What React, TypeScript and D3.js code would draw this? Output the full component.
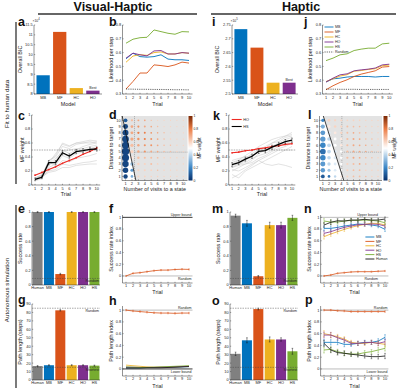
import React from 'react';
import * as d3 from 'd3';

const FONT = '"Liberation Sans", Arial, Helvetica, sans-serif';
const INK = '#262626';
const MB = '#0072BD', MF = '#D95319', HC = '#EDB120', HO = '#7E2F8E', HS = '#77AC30', HUMAN = '#808080';

// ---------------- data ----------------
const trials = [1, 2, 3, 4, 5, 6, 7, 8, 9, 10];
const models = ['MB', 'MF', 'HC', 'HO'];
const groups = ['Human', 'MB', 'MF', 'HC', 'HO', 'HS'];
const groupColors = [HUMAN, MB, MF, HC, HO, HS];
const unitTicks = [0, 0.2, 0.4, 0.6, 0.8, 1];
const pathTicks = [0, 10, 20, 30, 40, 50, 60, 70, 80, 90];

// a, i : overall BIC
const bicVisual = [8.95, 11.15, 8.3, 8.17];
const bicHaptic = [2.735, 2.668, 2.541, 2.541];
const bicVisualTicks = [8, 8.5, 9, 9.5, 10, 10.5, 11, 11.5];
const bicHapticTicks = [2.5, 2.55, 2.6, 2.65, 2.7, 2.75];

// b, j : likelihood per step
const likTicks = [0.3, 0.4, 0.5, 0.6, 0.7, 0.8];
const likVisualMB = [0.555, 0.596, 0.571, 0.567, 0.571, 0.584, 0.553, 0.548, 0.548, 0.543];
const likVisualMF = [0.336, 0.391, 0.452, 0.452, 0.511, 0.506, 0.499, 0.511, 0.531, 0.524];
const likVisualHC = [0.53, 0.575, 0.585, 0.58, 0.6, 0.605, 0.59, 0.59, 0.6, 0.595];
const likVisualHO = [0.56, 0.596, 0.584, 0.576, 0.612, 0.615, 0.59, 0.59, 0.6, 0.596];
const likVisualHS = [0.668, 0.697, 0.708, 0.711, 0.764, 0.752, 0.74, 0.733, 0.752, 0.75];
const likVisualRandom = [0.336, 0.335, 0.334, 0.334, 0.333, 0.333, 0.332, 0.331, 0.331, 0.33];
const likHapticMB = [0.387, 0.41, 0.415, 0.423, 0.427, 0.427, 0.427, 0.423, 0.427, 0.427];
const likHapticMF = [0.331, 0.36, 0.384, 0.403, 0.427, 0.444, 0.456, 0.468, 0.495, 0.499];
const likHapticHC = [0.39, 0.41, 0.43, 0.44, 0.465, 0.47, 0.478, 0.483, 0.505, 0.51];
const likHapticHO = [0.387, 0.415, 0.439, 0.446, 0.468, 0.475, 0.48, 0.488, 0.511, 0.516];
const likHapticHS = [0.542, 0.56, 0.584, 0.591, 0.615, 0.625, 0.632, 0.632, 0.663, 0.668];
const likHapticRandom = [0.335, 0.335, 0.334, 0.334, 0.334, 0.333, 0.333, 0.333, 0.333, 0.333];

// c, k : MF weight per trial
const mfWeightVisualHS = [0.081, 0.11, 0.319, 0.319, 0.461, 0.414, 0.476, 0.49, 0.51, 0.514];
const mfWeightVisualHSErr = [0.02, 0.02, 0.03, 0.03, 0.03, 0.03, 0.03, 0.03, 0.03, 0.03];
const mfWeightVisualHO = [0.14, 0.18, 0.22, 0.26, 0.31, 0.35, 0.39, 0.44, 0.48, 0.53];
const mfWeightHapticHS = [0.29, 0.32, 0.37, 0.41, 0.48, 0.49, 0.54, 0.58, 0.62, 0.64];
const mfWeightHapticHSErr = [0.03, 0.03, 0.03, 0.03, 0.03, 0.03, 0.03, 0.03, 0.03, 0.03];
const mfWeightHapticHO = [0.46, 0.47, 0.49, 0.5, 0.52, 0.53, 0.55, 0.56, 0.58, 0.59];
const mfSubjectsVisual = [
  [0.08, 0.12, 0.35, 0.4, 0.55, 0.52, 0.58, 0.6, 0.6, 0.62],
  [0.1, 0.15, 0.3, 0.45, 0.58, 0.55, 0.6, 0.62, 0.64, 0.63],
  [0.07, 0.1, 0.28, 0.35, 0.5, 0.45, 0.5, 0.55, 0.58, 0.6],
  [0.09, 0.13, 0.25, 0.3, 0.45, 0.4, 0.48, 0.5, 0.52, 0.55],
  [0.06, 0.09, 0.3, 0.38, 0.48, 0.5, 0.52, 0.52, 0.55, 0.57],
  [0.1, 0.14, 0.32, 0.28, 0.42, 0.38, 0.45, 0.47, 0.5, 0.52],
  [0.08, 0.1, 0.22, 0.25, 0.35, 0.33, 0.38, 0.4, 0.42, 0.45],
  [0.07, 0.11, 0.2, 0.22, 0.3, 0.28, 0.3, 0.32, 0.33, 0.35],
  [0.09, 0.12, 0.18, 0.2, 0.25, 0.25, 0.28, 0.29, 0.3, 0.3],
  [0.1, 0.13, 0.35, 0.42, 0.6, 0.56, 0.6, 0.6, 0.62, 0.6],
];
const mfSubjectsHaptic = [
  [0.25, 0.3, 0.35, 0.4, 0.5, 0.55, 0.6, 0.65, 0.7, 0.75],
  [0.3, 0.35, 0.38, 0.45, 0.5, 0.52, 0.6, 0.62, 0.68, 0.7],
  [0.2, 0.25, 0.3, 0.35, 0.45, 0.5, 0.55, 0.6, 0.65, 0.68],
  [0.35, 0.38, 0.4, 0.42, 0.48, 0.5, 0.52, 0.58, 0.6, 0.62],
  [0.15, 0.1, 0.2, 0.25, 0.3, 0.35, 0.4, 0.45, 0.5, 0.55],
  [0.28, 0.3, 0.32, 0.38, 0.42, 0.45, 0.5, 0.55, 0.58, 0.6],
  [0.22, 0.2, 0.25, 0.3, 0.35, 0.3, 0.28, 0.3, 0.28, 0.25],
  [0.32, 0.36, 0.42, 0.48, 0.55, 0.6, 0.65, 0.68, 0.7, 0.72],
  [0.25, 0.28, 0.3, 0.32, 0.38, 0.42, 0.48, 0.52, 0.55, 0.6],
  [0.1, 0.15, 0.22, 0.28, 0.35, 0.4, 0.45, 0.5, 0.5, 0.5],
];

// d, l : rows = distance to target 1..10, columns = visits 1..10
const visitCountVisual = [
  [30, 8, 3, 2, 1, 1, 0.5, 0.5, 0.3, 0.3],
  [50, 12, 4, 3, 2, 1, 1, 0.5, 0.5, 0.3],
  [70, 15, 6, 4, 3, 2, 1, 1, 0.5, 0.5],
  [90, 15, 6, 4, 3, 2, 1.5, 1, 0.8, 0.5],
  [100, 14, 6, 4, 3, 2, 1.5, 1, 0.8, 0.5],
  [90, 14, 6, 4, 3, 2, 1.5, 1, 0.8, 0.5],
  [80, 14, 6, 4, 3, 2, 1, 1, 0.5, 0.5],
  [60, 10, 5, 3, 2, 1.5, 1, 0.5, 0.5, 0.3],
  [40, 8, 4, 3, 2, 1, 0.5, 0.5, 0.3, 0.3],
  [20, 5, 3, 2, 1, 0.5, 0.5, 0.3, 0.3, 0.3],
];
const visitWeightVisual = [
  [0.05, 0.3, 0.6, 0.6, 0.6, 0.6, 0.6, 0.6, 0.6, 0.6],
  [0.05, 0.25, 0.6, 0.6, 0.6, 0.65, 0.6, 0.6, 0.6, 0.6],
  [0.05, 0.35, 0.6, 0.6, 0.65, 0.6, 0.6, 0.6, 0.6, 0.6],
  [0.05, 0.55, 0.65, 0.65, 0.65, 0.65, 0.6, 0.6, 0.6, 0.6],
  [0.05, 0.6, 0.7, 0.75, 0.7, 0.7, 0.65, 0.65, 0.6, 0.6],
  [0.05, 0.65, 0.7, 0.75, 0.75, 0.7, 0.65, 0.65, 0.6, 0.6],
  [0.05, 0.7, 0.75, 0.8, 0.75, 0.7, 0.65, 0.6, 0.6, 0.6],
  [0.05, 0.7, 0.8, 0.8, 0.75, 0.7, 0.65, 0.6, 0.6, 0.6],
  [0.05, 0.7, 0.75, 0.7, 0.7, 0.65, 0.6, 0.6, 0.6, 0.6],
  [0.1, 0.65, 0.7, 0.7, 0.65, 0.6, 0.6, 0.6, 0.6, 0.6],
];
const visitCountHaptic = [
  [20, 8, 6, 4, 3, 2, 2, 1.5, 1, 1],
  [30, 12, 8, 5, 3, 2, 2, 1.5, 1, 1],
  [40, 15, 10, 6, 4, 3, 2, 1.5, 1, 1],
  [50, 18, 12, 7, 4, 3, 2, 1.5, 1, 1],
  [55, 20, 12, 7, 4, 3, 2, 1.5, 1, 1],
  [50, 20, 12, 7, 4, 3, 2, 1.5, 1, 1],
  [45, 18, 10, 6, 4, 3, 2, 1.5, 1, 1],
  [35, 15, 9, 5, 3, 2, 2, 1.5, 1, 1],
  [25, 12, 7, 4, 3, 2, 1.5, 1, 1, 0.8],
  [15, 8, 5, 3, 2, 2, 1.5, 1, 1, 0.8],
];
const visitWeightHaptic = [
  [0.1, 0.15, 0.4, 0.55, 0.6, 0.65, 0.65, 0.65, 0.6, 0.6],
  [0.25, 0.35, 0.45, 0.5, 0.6, 0.65, 0.65, 0.6, 0.6, 0.6],
  [0.25, 0.4, 0.45, 0.5, 0.6, 0.65, 0.7, 0.65, 0.6, 0.6],
  [0.2, 0.4, 0.45, 0.5, 0.65, 0.7, 0.7, 0.65, 0.65, 0.6],
  [0.15, 0.4, 0.45, 0.5, 0.65, 0.7, 0.7, 0.7, 0.65, 0.6],
  [0.2, 0.4, 0.5, 0.55, 0.65, 0.7, 0.7, 0.7, 0.65, 0.6],
  [0.25, 0.4, 0.5, 0.55, 0.65, 0.7, 0.7, 0.65, 0.65, 0.6],
  [0.25, 0.45, 0.55, 0.6, 0.65, 0.7, 0.65, 0.65, 0.6, 0.6],
  [0.3, 0.55, 0.6, 0.6, 0.65, 0.65, 0.65, 0.6, 0.6, 0.6],
  [0.2, 0.6, 0.6, 0.6, 0.6, 0.6, 0.6, 0.6, 0.6, 0.6],
];
const boundaryVisual = [[0.5, 10.6], [2.6, 0.4]];
const boundaryHaptic = [[1.1, 10.6], [4.4, 0.4]];
const visitsDashVisual = 2.4;
const visitsDashHaptic = 4.1;
const distanceDash = 4.9;

// e, m : success rate
const successVisual = [1, 1, 0.15, 1, 1, 1];
const successVisualErr = [0.005, 0.005, 0.01, 0.005, 0.005, 0.005];
const successHaptic = [0.95, 0.845, 0.12, 0.82, 0.82, 0.92];
const successHapticErr = [0.02, 0.04, 0.01, 0.04, 0.04, 0.035];
const successRandom = 0.09;

// f, n : success rate index
const sriVisualMF = [0, 0.045, 0.056, 0.073, 0.09, 0.1, 0.1, 0.11, 0.115, 0.112];
const sriHapticMB = [0.812, 0.812, 0.829, 0.852, 0.869, 0.886, 0.881, 0.869, 0.852, 0.795];
const sriHapticMF = [0, 0.017, 0.045, 0.056, 0.068, 0.073, 0.073, 0.073, 0.08, 0.085];
const sriHapticHC = [0.67, 0.716, 0.755, 0.795, 0.829, 0.857, 0.88, 0.897, 0.897, 0.869];
const sriHapticHO = [0.727, 0.755, 0.795, 0.829, 0.852, 0.874, 0.88, 0.886, 0.88, 0.852];
const sriHapticHS = [0.937, 0.92, 0.92, 0.937, 0.948, 0.948, 0.954, 0.948, 0.937, 0.908];
const sriHapticHuman = [0.869, 0.915, 0.942, 0.937, 0.954, 0.954, 0.966, 0.954, 0.954, 0.971];
const sriErr = [0.04, 0.04, 0.035, 0.035, 0.03, 0.03, 0.03, 0.03, 0.03, 0.035];
const sriErrMF = [0.01, 0.01, 0.01, 0.01, 0.01, 0.01, 0.01, 0.01, 0.01, 0.01];

// g, o : path length
const pathVisual = [16.5, 17.5, 82.5, 17.5, 17.5, 17];
const pathVisualErr = [0.6, 0.6, 0.8, 0.6, 0.6, 0.6];
const pathHaptic = [31, 47, 84, 48, 48, 34];
const pathHapticErr = [2, 3, 1, 3, 2, 3.5];
const pathRandom = 85;
const pathShortest = 15;

// h, p : path length index
const pliVisualMF = [1, 0.985, 0.975, 0.965, 0.955, 0.95, 0.95, 0.945, 0.95, 0.95];
const pliVisualMB = [0.02, 0.02, 0.02, 0.025, 0.025, 0.025, 0.03, 0.03, 0.035, 0.04];
const pliVisualHC = [0.065, 0.055, 0.045, 0.035, 0.03, 0.03, 0.03, 0.035, 0.04, 0.045];
const pliVisualHO = [0.03, 0.028, 0.025, 0.025, 0.025, 0.03, 0.03, 0.035, 0.04, 0.045];
const pliVisualHS = [0.035, 0.03, 0.025, 0.025, 0.03, 0.035, 0.04, 0.045, 0.05, 0.055];
const pliVisualHuman = [0.015, 0.015, 0.015, 0.02, 0.02, 0.02, 0.025, 0.03, 0.035, 0.04];
const pliHapticMB = [0.452, 0.452, 0.452, 0.418, 0.418, 0.435, 0.452, 0.452, 0.474, 0.537];
const pliHapticMF = [1, 1, 0.99, 0.985, 0.975, 0.975, 0.975, 0.975, 0.975, 0.975];
const pliHapticHC = [0.6, 0.576, 0.548, 0.508, 0.452, 0.435, 0.435, 0.452, 0.435, 0.418];
const pliHapticHO = [0.576, 0.576, 0.53, 0.49, 0.435, 0.435, 0.446, 0.452, 0.435, 0.463];
const pliHapticHS = [0.322, 0.333, 0.294, 0.266, 0.254, 0.254, 0.277, 0.294, 0.322, 0.35];
const pliHapticHuman = [0.435, 0.322, 0.277, 0.266, 0.249, 0.238, 0.22, 0.209, 0.209, 0.22];
const pliErr = [0.05, 0.045, 0.04, 0.04, 0.035, 0.035, 0.035, 0.035, 0.04, 0.045];
const pliErrMF = [0.012, 0.012, 0.012, 0.012, 0.012, 0.012, 0.012, 0.012, 0.012, 0.012];

// ---------------- helpers ----------------
const mfColor = d3.scaleLinear<string>()
  .domain([0, 0.2, 0.5, 0.8, 1])
  .range(['#08306b', '#3a86c6', '#ffffff', '#ec7d45', '#7a2805']);

function Axes({ x, y, xTicks, yTicks, yFmt, xLab, yLab, yLabX, xLabY, tickDy = 4.6 }: any) {
  const [xa, xb] = x.range();
  const [ya, yb] = y.range();
  const band = typeof x.bandwidth === 'function';
  const xp = (t: any) => (band ? x(t) + x.bandwidth() / 2 : x(t));
  return (
    <g fill={INK}>
      <line x1={xa} x2={xa} y1={ya} y2={yb} stroke={INK} strokeWidth={0.5} />
      <line x1={xa} x2={xb} y1={ya} y2={ya} stroke={INK} strokeWidth={0.5} />
      {yTicks.map((t: number) => (
        <g key={'y' + t}>
          <line x1={xa} x2={xa + 1.2} y1={y(t)} y2={y(t)} stroke={INK} strokeWidth={0.4} />
          <text x={xa - 1.3} y={y(t) + 1.4} fontSize={3.9} textAnchor="end">{yFmt ? yFmt(t) : t}</text>
        </g>
      ))}
      {xTicks.map((t: any) => (
        <g key={'x' + t}>
          {!band && <line x1={xp(t)} x2={xp(t)} y1={ya} y2={ya - 1.2} stroke={INK} strokeWidth={0.4} />}
          <text x={xp(t)} y={ya + tickDy} fontSize={3.9} textAnchor="middle">{t}</text>
        </g>
      ))}
      {xLab && <text x={(xa + xb) / 2} y={xLabY} fontSize={5.4} textAnchor="middle">{xLab}</text>}
      {yLab && (
        <text transform={`translate(${yLabX},${(ya + yb) / 2}) rotate(-90)`} fontSize={5.4} textAnchor="middle">{yLab}</text>
      )}
    </g>
  );
}

function Letter({ x, y, t }: any) {
  return <text x={x} y={y} fontSize={12.5} fontWeight="bold" fill="#111">{t}</text>;
}

function Series({ x, y, vals, color, width = 0.9, dash, err, marker, cap = 0.8 }: any) {
  const line = d3.line<number>().x((_, i) => x(trials[i])).y((v) => y(v));
  return (
    <g>
      {err && vals.map((v: number, i: number) => {
        const cx = x(trials[i]);
        return (
          <g key={i} stroke={color} strokeWidth={0.4}>
            <line x1={cx} x2={cx} y1={y(v - err[i])} y2={y(v + err[i])} />
            <line x1={cx - cap} x2={cx + cap} y1={y(v - err[i])} y2={y(v - err[i])} />
            <line x1={cx - cap} x2={cx + cap} y1={y(v + err[i])} y2={y(v + err[i])} />
          </g>
        );
      })}
      <path d={line(vals) || ''} fill="none" stroke={color} strokeWidth={width} strokeDasharray={dash} />
      {marker && vals.map((v: number, i: number) => (
        <circle key={'m' + i} cx={x(trials[i])} cy={y(v)} r={0.9} fill={color} />
      ))}
    </g>
  );
}

function RefLine({ x, y, v, color, width = 0.8, dash, label, above, labelX }: any) {
  const [xa, xb] = x.range();
  return (
    <g>
      <line x1={xa} x2={xb} y1={y(v)} y2={y(v)} stroke={color} strokeWidth={width} strokeDasharray={dash} />
      {label && (
        <text x={labelX ?? xb - 1} y={above ? y(v) - 1.3 : y(v) + 4} fontSize={3.6} textAnchor="end" fill={INK}>{label}</text>
      )}
    </g>
  );
}

function BicPanel({ letter, lx, vals, ticks, range, domain, yLabX, exp }: any) {
  const x = d3.scaleBand<string>().domain(models).range(range).paddingInner(0.2).paddingOuter(0.15);
  const y = d3.scaleLinear().domain(domain).range([94, 25]);
  const colors = [MB, MF, HC, HO];
  const [xa] = x.range();
  return (
    <g>
      <Letter x={lx} y={26} t={letter} />
      {vals.map((v: number, i: number) => (
        <rect key={i} x={x(models[i])} y={y(v)} width={x.bandwidth()} height={y(domain[0]) - y(v)} fill={colors[i]} />
      ))}
      <text x={(x('HO') as number) + x.bandwidth() / 2} y={y(vals[3]) - 1.5} fontSize={3.6} textAnchor="middle" fill={INK}>Best</text>
      <Axes x={x} y={y} xTicks={models} yTicks={ticks} xLab="Model" yLab="Overall BIC" yLabX={yLabX} xLabY={106} />
      <text x={xa - 1.5} y={21.8} fontSize={3.4} fill={INK}>
        ×10<tspan dy={-1.4} fontSize={2.7}>{exp}</tspan>
      </text>
    </g>
  );
}

function LikPanel({ letter, lx, range, yLabX, series, legend }: any) {
  const x = d3.scaleLinear().domain([0.5, 10.5]).range(range);
  const y = d3.scaleLinear().domain([0.3, 0.8]).range([94, 25]);
  const [xa] = x.range();
  return (
    <g>
      <Letter x={lx} y={26} t={letter} />
      {series.map((s: any, i: number) => (
        <Series key={i} x={x} y={y} vals={s.vals} color={s.color} dash={s.dash} width={s.dash ? 0.6 : 0.9} />
      ))}
      {legend && series.map((s: any, i: number) => (
        <g key={'l' + i}>
          <line x1={xa + 2} x2={xa + 11} y1={27 + i * 5} y2={27 + i * 5} stroke={s.color} strokeWidth={s.dash ? 0.6 : 0.9} strokeDasharray={s.dash} />
          <text x={xa + 12.5} y={28.3 + i * 5} fontSize={3.6} fill={INK}>{s.name}</text>
        </g>
      ))}
      <Axes x={x} y={y} xTicks={trials} yTicks={likTicks} xLab="Trial" yLab="Likelihood per step" yLabX={yLabX} xLabY={106} />
    </g>
  );
}

function WeightPanel({ letter, lx, range, yLabX, subjects, hs, hsErr, ho, legend }: any) {
  const x = d3.scaleLinear().domain([0.5, 10.5]).range(range);
  const y = d3.scaleLinear().domain([0, 1]).range([185, 115]);
  const [xa] = x.range();
  return (
    <g>
      <Letter x={lx} y={120} t={letter} />
      {subjects.map((s: number[], i: number) => (
        <Series key={i} x={x} y={y} vals={s} color="#c4c4c4" width={0.5} />
      ))}
      <RefLine x={x} y={y} v={0.5} color="#555" width={0.5} dash="1.5,1" />
      <Series x={x} y={y} vals={ho} color="#ee2a24" width={1.1} marker />
      <Series x={x} y={y} vals={hs} color="#000" width={1.3} err={hsErr} />
      {legend && (
        <g>
          <line x1={xa + 3} x2={xa + 13} y1={119.5} y2={119.5} stroke="#ee2a24" strokeWidth={1.1} />
          <text x={xa + 14.5} y={120.9} fontSize={3.8} fill={INK}>HO</text>
          <line x1={xa + 3} x2={xa + 13} y1={126.5} y2={126.5} stroke="#000" strokeWidth={1.1} />
          <text x={xa + 14.5} y={127.9} fontSize={3.8} fill={INK}>HS</text>
        </g>
      )}
      <Axes x={x} y={y} xTicks={trials} yTicks={unitTicks} xLab="Trial" yLab="MF weight" yLabX={yLabX} xLabY={196} />
    </g>
  );
}

function BubblePanel({ letter, lx, range, yLabX, counts, weights, boundary, vDash, cbX }: any) {
  const x = d3.scaleLinear().domain([0.45, 10.65]).range(range);
  const y = d3.scaleLinear().domain([0.35, 10.7]).range([180.5, 116]);
  const r = d3.scaleSqrt().domain([0, 100]).range([0.4, 3.7]);
  const [[v0, d0], [v1, d1]] = boundary;
  const atD = (d: number) => v0 + ((d - d0) * (v1 - v0)) / (d1 - d0);
  const [dBot, dTop] = y.domain();
  const [, xb] = x.range();
  const grey = [[x(atD(dTop)), y(dTop)], [xb, y(dTop)], [xb, y(dBot)], [x(atD(dBot)), y(dBot)]];
  const cb = d3.scaleLinear().domain([0, 1]).range([180.5, 116]);
  const gid = 'cb' + letter;
  return (
    <g>
      <Letter x={lx} y={119} t={letter} />
      <polygon points={grey.map((p) => p.join(',')).join(' ')} fill="#e3e3e3" />
      <line x1={x(vDash)} x2={x(vDash)} y1={y(dTop)} y2={y(dBot)} stroke="#777" strokeWidth={0.45} strokeDasharray="1.2,0.8" />
      <line x1={x(vDash)} x2={xb} y1={y(distanceDash)} y2={y(distanceDash)} stroke="#777" strokeWidth={0.45} strokeDasharray="1.2,0.8" />
      {counts.map((row: number[], di: number) =>
        row.map((c: number, vi: number) => (
          <circle key={di + '-' + vi} cx={x(trials[vi])} cy={y(trials[di])} r={r(c)} fill={mfColor(weights[di][vi])} />
        ))
      )}
      <line x1={x(atD(dTop))} y1={y(dTop)} x2={x(atD(dBot))} y2={y(dBot)} stroke="#111" strokeWidth={0.8} />
      <Axes x={x} y={y} xTicks={trials} yTicks={trials} xLab="Number of visits to a state" yLab="Distance to target" yLabX={yLabX} xLabY={190.5} tickDy={4.4} />
      <defs>
        <linearGradient id={gid} x1="0" x2="0" y1="1" y2="0">
          {[0, 0.1, 0.2, 0.3, 0.4, 0.5, 0.6, 0.7, 0.8, 0.9, 1].map((t) => (
            <stop key={t} offset={t} stopColor={mfColor(t)} />
          ))}
        </linearGradient>
      </defs>
      <rect x={cbX} y={116} width={4} height={64.5} fill={`url(#${gid})`} />
      {unitTicks.map((t) => (
        <text key={t} x={cbX + 5} y={cb(t) + 1.3} fontSize={3.4} fill={INK}>{t}</text>
      ))}
      <text transform={`translate(${cbX + 12},148) rotate(-90)`} fontSize={4.6} textAnchor="middle" fill={INK}>MF weight</text>
    </g>
  );
}

function SimBarPanel({ letter, lx, ly, range, y, yTicks, vals, errs, yLab, yLabX, refs }: any) {
  const x = d3.scaleBand<string>().domain(groups).range(range).paddingInner(0.12).paddingOuter(0.05);
  const base = y.domain()[0];
  return (
    <g>
      <Letter x={lx} y={ly} t={letter} />
      {vals.map((v: number, i: number) => (
        <rect key={i} x={x(groups[i])} y={y(v)} width={x.bandwidth()} height={y(base) - y(v)} fill={groupColors[i]} />
      ))}
      {vals.map((v: number, i: number) => {
        const cx = (x(groups[i]) as number) + x.bandwidth() / 2;
        return (
          <g key={'e' + i} stroke="#111" strokeWidth={0.45}>
            <line x1={cx} x2={cx} y1={y(v - errs[i])} y2={y(v + errs[i])} />
            <line x1={cx - 0.8} x2={cx + 0.8} y1={y(v - errs[i])} y2={y(v - errs[i])} />
            <line x1={cx - 0.8} x2={cx + 0.8} y1={y(v + errs[i])} y2={y(v + errs[i])} />
          </g>
        );
      })}
      {refs.map((rf: any, i: number) => (
        <RefLine key={i} x={x} y={y} v={rf.v} color="#444" width={0.45} dash="1.5,1" label={rf.label} />
      ))}
      <Axes x={x} y={y} xTicks={groups} yTicks={yTicks} yLab={yLab} yLabX={yLabX} tickDy={4.4} />
    </g>
  );
}

function IndexPanel({ letter, lx, ly, range, y, series, refs, yLab, yLabX, xLabY, legend }: any) {
  const x = d3.scaleLinear().domain([0.5, 10.5]).range(range);
  const [, xb] = x.range();
  return (
    <g>
      <Letter x={lx} y={ly} t={letter} />
      {refs.map((rf: any, i: number) => (
        <RefLine key={i} x={x} y={y} v={rf.v} color={rf.color} width={0.9} label={rf.label} above={rf.above} labelX={rf.labelX} />
      ))}
      {series.map((s: any, i: number) => (
        <Series key={i} x={x} y={y} vals={s.vals} color={s.color} width={0.8} err={s.err} />
      ))}
      {legend && series.map((s: any, i: number) => (
        <g key={'l' + i}>
          <line x1={xb - 23} x2={xb - 14} y1={237 + i * 4.4} y2={237 + i * 4.4} stroke={s.color} strokeWidth={0.9} />
          <text x={xb - 12.5} y={238.3 + i * 4.4} fontSize={3.6} fill={INK}>{s.name}</text>
        </g>
      ))}
      <Axes x={x} y={y} xTicks={trials} yTicks={unitTicks} xLab="Trial" yLab={yLab} yLabX={yLabX} xLabY={xLabY} tickDy={4.4} />
    </g>
  );
}

export default function App() {
  const ySucc = d3.scaleLinear().domain([0, 1]).range([285, 212]);
  const yPath = d3.scaleLinear().domain([0, 90]).range([380, 304]);
  const ySri = d3.scaleLinear().domain([-0.12, 1.04]).range([283, 215]);
  const yPli = d3.scaleLinear().domain([-0.12, 1.07]).range([376, 306]);
  return (
    <svg width={400} height={390} style={{ position: 'absolute', left: 0, top: 0, background: '#fff' }} fontFamily={FONT}>
      {/* headers */}
      <text x={113} y={10.5} fontSize={12.5} fontWeight="bold" textAnchor="middle" fill="#111">Visual-Haptic</text>
      <text x={301} y={10.5} fontSize={12.5} fontWeight="bold" textAnchor="middle" fill="#111">Haptic</text>
      <line x1={38} x2={197} y1={14} y2={14} stroke="#333" strokeWidth={1.3} />
      <line x1={211} x2={396} y1={14} y2={14} stroke="#333" strokeWidth={1.3} />
      <line x1={16} x2={16} y1={22} y2={184} stroke="#333" strokeWidth={1.3} />
      <line x1={16} x2={16} y1={205} y2={388} stroke="#333" strokeWidth={1.3} />
      <text transform="translate(9,104) rotate(-90)" fontSize={6.2} textAnchor="middle" fill="#111">Fit to human data</text>
      <text transform="translate(9,290) rotate(-90)" fontSize={6.2} textAnchor="middle" fill="#111">Autonomous simulation</text>

      {/* row 1 */}
      <BicPanel letter="a" lx={18} vals={bicVisual} ticks={bicVisualTicks} domain={[8, 11.5]} range={[34, 102]} yLabX={21.5} exp="4" />
      <LikPanel letter="b" lx={109} range={[122.5, 192.5]} yLabX={112.5} series={[
        { name: 'MB', vals: likVisualMB, color: MB },
        { name: 'MF', vals: likVisualMF, color: MF },
        { name: 'HC', vals: likVisualHC, color: HC },
        { name: 'HO', vals: likVisualHO, color: HO },
        { name: 'HS', vals: likVisualHS, color: HS },
        { name: 'Random', vals: likVisualRandom, color: '#000', dash: '1.2,1' },
      ]} />
      <BicPanel letter="i" lx={212} vals={bicHaptic} ticks={bicHapticTicks} domain={[2.5, 2.75]} range={[232, 298]} yLabX={218.5} exp="5" />
      <LikPanel letter="j" lx={304} range={[322.5, 392.8]} yLabX={311.5} legend series={[
        { name: 'MB', vals: likHapticMB, color: MB },
        { name: 'MF', vals: likHapticMF, color: MF },
        { name: 'HC', vals: likHapticHC, color: HC },
        { name: 'HO', vals: likHapticHO, color: HO },
        { name: 'HS', vals: likHapticHS, color: HS },
        { name: 'Random', vals: likHapticRandom, color: '#000', dash: '1.2,1' },
      ]} />

      {/* row 2 */}
      <WeightPanel letter="c" lx={18} range={[31.6, 100.2]} yLabX={23.5} subjects={mfSubjectsVisual} hs={mfWeightVisualHS} hsErr={mfWeightVisualHSErr} ho={mfWeightVisualHO} />
      <BubblePanel letter="d" lx={109} range={[122, 187.5]} yLabX={112.5} counts={visitCountVisual} weights={visitWeightVisual} boundary={boundaryVisual} vDash={visitsDashVisual} cbX={188.5} />
      <WeightPanel letter="k" lx={213} range={[228.7, 295.3]} yLabX={220} subjects={mfSubjectsHaptic} hs={mfWeightHapticHS} hsErr={mfWeightHapticHSErr} ho={mfWeightHapticHO} legend />
      <BubblePanel letter="l" lx={308} range={[319.5, 382]} yLabX={309.5} counts={visitCountHaptic} weights={visitWeightHaptic} boundary={boundaryHaptic} vDash={visitsDashHaptic} cbX={383.5} />

      {/* row 3 */}
      <SimBarPanel letter="e" lx={18} ly={213} range={[32, 100]} y={ySucc} yTicks={unitTicks} vals={successVisual} errs={successVisualErr} yLab="Success rate" yLabX={22} refs={[{ v: successRandom, label: 'Random' }]} />
      <IndexPanel letter="f" lx={109} ly={213} range={[122.5, 192.5]} y={ySri} yLab="Success rate index" yLabX={112.5} xLabY={294}
        refs={[{ v: 1, color: '#222', label: 'Upper bound', above: true }, { v: 0, color: '#b5b5b5', label: 'Random' }]}
        series={[{ name: 'MF', vals: sriVisualMF, color: MF, err: sriErrMF }]} />
      <SimBarPanel letter="m" lx={212} ly={213} range={[230, 298]} y={ySucc} yTicks={unitTicks} vals={successHaptic} errs={successHapticErr} yLab="Success rate" yLabX={220} refs={[{ v: successRandom, label: 'Random' }]} />
      <IndexPanel letter="n" lx={304} ly={213} range={[320.6, 388.4]} y={ySri} yLab="Success rate index" yLabX={310.5} xLabY={294} legend
        refs={[{ v: 1, color: '#b5b5b5', label: 'Upper bound', above: true, labelX: 378 }, { v: 0, color: '#b5b5b5', label: 'Random', labelX: 378 }]}
        series={[
          { name: 'MB', vals: sriHapticMB, color: MB, err: sriErr },
          { name: 'MF', vals: sriHapticMF, color: MF, err: sriErrMF },
          { name: 'HC', vals: sriHapticHC, color: HC, err: sriErr },
          { name: 'HO', vals: sriHapticHO, color: HO, err: sriErr },
          { name: 'HS', vals: sriHapticHS, color: HS, err: sriErr },
          { name: 'Human', vals: sriHapticHuman, color: '#111', err: sriErr },
        ]} />

      {/* row 4 */}
      <SimBarPanel letter="g" lx={18} ly={304} range={[32, 100]} y={yPath} yTicks={pathTicks} vals={pathVisual} errs={pathVisualErr} yLab="Path length (steps)" yLabX={22} refs={[{ v: pathRandom, label: 'Random' }, { v: pathShortest, label: 'Shortest' }]} />
      <IndexPanel letter="h" lx={109} ly={305} range={[122.5, 192.5]} y={yPli} yLab="Path length index" yLabX={112.5} xLabY={388}
        refs={[{ v: 1, color: '#b5b5b5', label: 'Random', above: true }, { v: 0, color: '#222', label: 'Lower bound' }]}
        series={[
          { name: 'MB', vals: pliVisualMB, color: MB },
          { name: 'HC', vals: pliVisualHC, color: HC },
          { name: 'HO', vals: pliVisualHO, color: HO },
          { name: 'HS', vals: pliVisualHS, color: HS },
          { name: 'Human', vals: pliVisualHuman, color: '#111' },
          { name: 'MF', vals: pliVisualMF, color: MF, err: pliErrMF },
        ]} />
      <SimBarPanel letter="o" lx={212} ly={305} range={[230, 298]} y={yPath} yTicks={pathTicks} vals={pathHaptic} errs={pathHapticErr} yLab="Path length (steps)" yLabX={220} refs={[{ v: pathRandom, label: 'Random' }, { v: pathShortest, label: 'Shortest' }]} />
      <IndexPanel letter="p" lx={305} ly={304} range={[320.6, 388.4]} y={yPli} yLab="Path length index" yLabX={310.5} xLabY={388}
        refs={[{ v: 1, color: '#b5b5b5', label: 'Random', above: true }, { v: 0, color: '#b5b5b5', label: 'Lower bound' }]}
        series={[
          { name: 'MB', vals: pliHapticMB, color: MB, err: pliErr },
          { name: 'MF', vals: pliHapticMF, color: MF, err: pliErrMF },
          { name: 'HC', vals: pliHapticHC, color: HC, err: pliErr },
          { name: 'HO', vals: pliHapticHO, color: HO, err: pliErr },
          { name: 'HS', vals: pliHapticHS, color: HS, err: pliErr },
          { name: 'Human', vals: pliHapticHuman, color: '#111', err: pliErr },
        ]} />
    </svg>
  );
}
